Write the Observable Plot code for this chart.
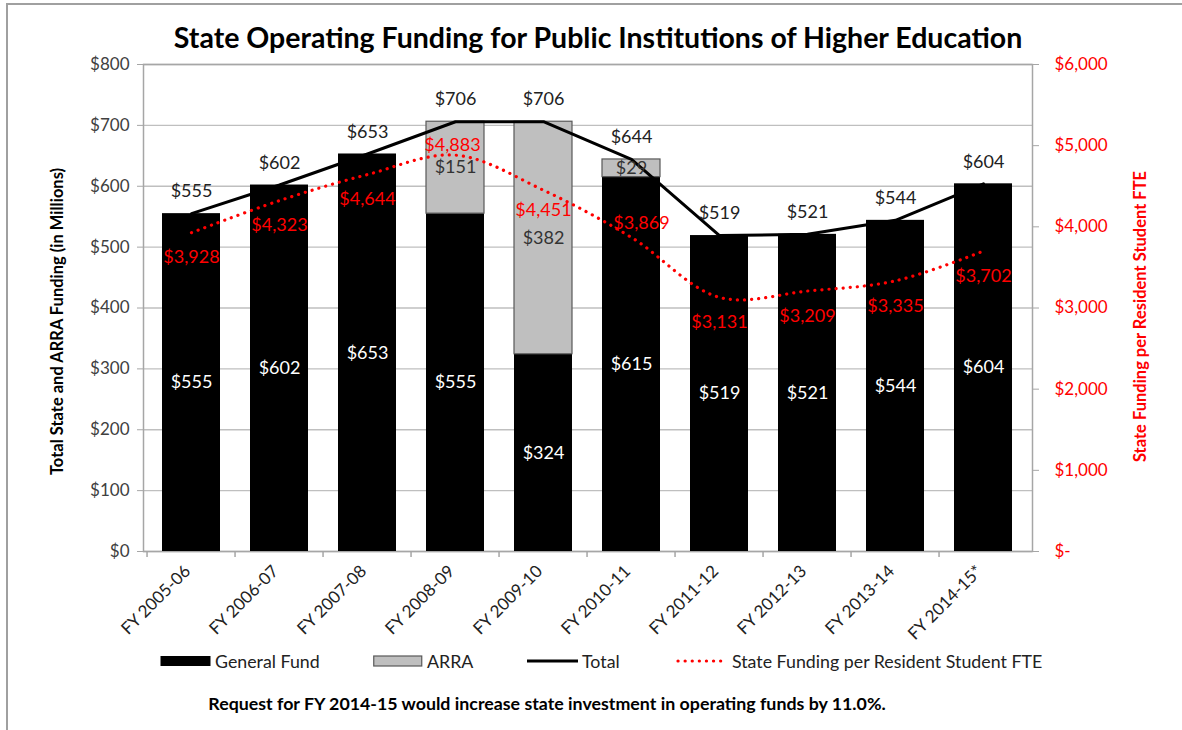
<!DOCTYPE html>
<html>
<head>
<meta charset="utf-8">
<script src="https://cdn.jsdelivr.net/npm/d3@7"></script>
<script src="https://cdn.jsdelivr.net/npm/@observablehq/plot@0.6"></script>
<style>
  body { margin: 0; background: #fff; font-family: Lato, "Open Sans", sans-serif; }
  #wrap { position: relative; width: 1182px; height: 730px; overflow: hidden; background: #fff; }
  #frame { position: absolute; left: 6px; top: 3px; width: 1300px; height: 900px; border-left: 2px solid #a0a0a0; border-top: 2px solid #a0a0a0; pointer-events: none; }
  #title { height: 50px; box-sizing: border-box; padding-top: 22px; padding-left: 14px; line-height: 30px; text-align: center; font-weight: 700; font-size: 28.5px; color: #000; position: relative; white-space: nowrap; }
  #chart { position: relative; height: 600px; }
  #legend { position: absolute; top: 649px; left: 0; width: 1182px; height: 24px; font-size: 17.8px; color: #222; }
  #legend .item { position: absolute; top: 0; height: 24px; line-height: 24px; white-space: nowrap; }
  #legend svg { position: absolute; top: 0; }
  #note { position: absolute; top: 691px; left: 0; width: 1094px; text-align: center; font-weight: 700; font-size: 17.8px; color: #000; line-height: 24px; white-space: nowrap; }
</style>
</head>
<body>
<div id="wrap">
  <div id="frame"></div>
  <div id="title">State Operating Funding for Public Institutions of Higher Education</div>
  <div id="chart"></div>
  <div id="legend"></div>
  <div id="note">Request for FY 2014-15 would increase state investment in operating funds by 11.0%.</div>
</div>
<script>
// ---- Data ----
const years = ["FY 2005-06","FY 2006-07","FY 2007-08","FY 2008-09","FY 2009-10","FY 2010-11","FY 2011-12","FY 2012-13","FY 2013-14","FY 2014-15*"];
const generalFund = [555, 602, 653, 555, 324, 615, 519, 521, 544, 604];
const arra = [0, 0, 0, 151, 382, 29, 0, 0, 0, 0];
const total = [555, 602, 653, 706, 706, 644, 519, 521, 544, 604];
const perFTE = [3928, 4323, 4644, 4883, 4451, 3869, 3131, 3209, 3335, 3702];
const leftTicks = [0, 100, 200, 300, 400, 500, 600, 700, 800];
const rightTicks = [0, 1000, 2000, 3000, 4000, 5000, 6000];
const legendLabels = ["General Fund", "ARRA", "Total", "State Funding per Resident Student FTE"];

// ---- Build ----
const leftMax = 800, rightMax = 6000;
const k = leftMax / rightMax;
const rows = years.map((y, i) => ({year: y, gf: generalFund[i], arra: arra[i], total: total[i], fte: perFTE[i], i}));
const fmtRight = d3.format("$,");
const W = 1182, H = 600, mL = 143, mR = 150, mT = 14, mB = 99;
const step = (W - mL - mR) / years.length;
const RED = "#ff0000";
const PAD = 0.336;

// red label offsets (label placement like the original)
const redDy = i => (i === 3 ? -10 : i === 5 ? -14 : i === 4 ? 20 : 25);
const redDx = i => (i === 5 ? 10 : i === 3 ? -3 : 0);

const chart = Plot.plot({
  width: W, height: H,
  marginLeft: mL, marginRight: mR, marginTop: mT, marginBottom: mB,
  style: {fontFamily: "Lato, 'Open Sans', sans-serif", fontSize: "17px", background: "transparent", overflow: "visible"},
  x: {domain: years, paddingInner: PAD, paddingOuter: PAD / 2, axis: null},
  y: {domain: [0, leftMax], axis: null},
  marks: [
    Plot.gridY(leftTicks, {stroke: "#bfbfbf", strokeOpacity: 1, strokeWidth: 1.3}),
    Plot.frame({stroke: "#a6a6a6", strokeWidth: 1.5}),
    // x tick marks at category boundaries
    Plot.ruleX(years, {x: d => d, y1: 0, y2: -10, dx: -step / 2, stroke: "#a6a6a6", strokeWidth: 1.5}),
    Plot.axisX({tickRotate: -45, tickSize: 0, tickPadding: 17, dx: -4, fontSize: 17, color: "#222", label: null}),
    Plot.axisY(leftTicks, {anchor: "left", tickSize: 6, tickPadding: 8, tickFormat: d => "$" + d, fontSize: 17, color: "#404040", stroke: "#a6a6a6", label: null}),
    Plot.axisY(rightTicks.map(v => v * k), {anchor: "right", tickSize: 6, tickPadding: 16, textAnchor: "start",
      tickFormat: d => { const v = Math.round(d / k); return v === 0 ? "$-" : fmtRight(v); },
      fontSize: 17, color: RED, stroke: "#a6a6a6", label: null}),
    // bars
    Plot.barY(rows, {x: "year", y1: 0, y2: "gf", fill: "#000"}),
    Plot.barY(rows.filter(d => d.arra > 0), {x: "year", y1: "gf", y2: "total", fill: "#bfbfbf", stroke: "#595959", strokeWidth: 1.2}),
    // total line
    Plot.line(rows, {x: "year", y: "total", stroke: "#000", strokeWidth: 3}),
    // per FTE smooth dotted line (right axis)
    Plot.line(rows, {x: "year", y: d => d.fte * k, stroke: RED, strokeWidth: 3.2, strokeDasharray: "0.1 7", strokeLinecap: "round", curve: "catmull-rom"}),
    // labels
    Plot.text(rows, {x: "year", y: "total", text: d => "$" + d.total, dy: -22, fill: "#222", fontSize: 18}),
    Plot.text(rows, {x: "year", y: d => d.gf / 2, text: d => "$" + d.gf, fill: "#fff", fontSize: 18}),
    Plot.text(rows.filter(d => d.arra > 0), {x: "year", y: d => d.gf + d.arra / 2, text: d => "$" + d.arra, fill: "#333", fontSize: 18}),
    ...[0,1,2,3,4,5,6,7,8,9].map(i => Plot.text([rows[i]], {x: "year", y: d => d.fte * k, text: d => fmtRight(d.fte), fill: RED, fontSize: 18, dy: redDy(i), dx: redDx(i)})),
    // axis titles
    Plot.text(["Total State and ARRA Funding (in Millions)"], {frameAnchor: "left", textAnchor: "middle", dx: -86, dy: 13.5, rotate: -90, fontWeight: "bold", fontSize: 16.5, fill: "#000"}),
    Plot.text(["State Funding per Resident Student FTE"], {frameAnchor: "right", textAnchor: "middle", dx: 108, dy: 8.5, rotate: -90, fontWeight: "bold", fontSize: 16.5, fill: RED})
  ]
});
document.getElementById("chart").appendChild(chart);

// ---- Legend ----
const legend = document.getElementById("legend");
const swatches = [
  {x: 160, tx: 215, svg: '<svg width="52" height="24"><rect x="0.5" y="7" width="50" height="10" fill="#000"/></svg>'},
  {x: 373, tx: 427, svg: '<svg width="52" height="24"><rect x="0.75" y="7" width="48" height="10" fill="#bfbfbf" stroke="#595959" stroke-width="1.2"/></svg>'},
  {x: 527, tx: 582, svg: '<svg width="52" height="24"><line x1="0" x2="51" y1="12" y2="12" stroke="#000" stroke-width="3"/></svg>'},
  {x: 676, tx: 732, svg: '<svg width="52" height="24"><line x1="2" x2="50" y1="12" y2="12" stroke="' + RED + '" stroke-width="3.2" stroke-dasharray="0.1 7" stroke-linecap="round"/></svg>'}
];
swatches.forEach((s, i) => {
  const sw = document.createElement("div");
  sw.className = "item"; sw.style.left = s.x + "px"; sw.innerHTML = s.svg;
  legend.appendChild(sw);
  const t = document.createElement("div");
  t.className = "item"; t.style.left = s.tx + "px"; t.textContent = legendLabels[i];
  legend.appendChild(t);
});
</script>
</body>
</html>
